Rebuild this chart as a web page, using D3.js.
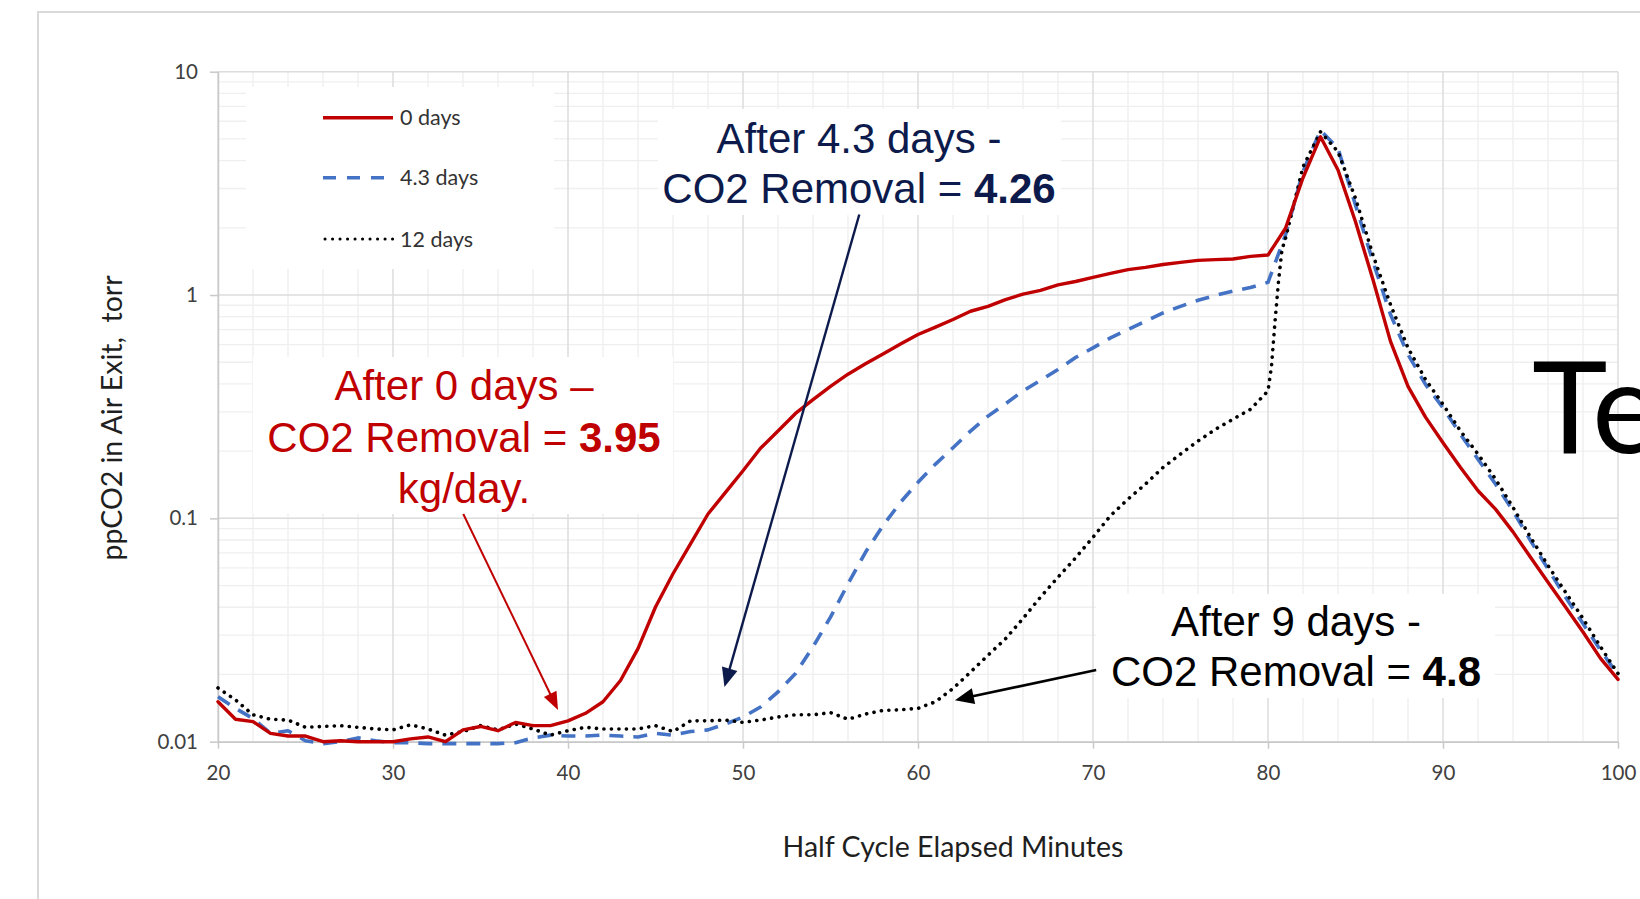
<!DOCTYPE html>
<html><head><meta charset="utf-8">
<script src="https://cdn.jsdelivr.net/npm/d3@7"></script>
<style>
html,body{margin:0;padding:0;background:#fff;overflow:hidden;}
svg{display:block;}
</style></head><body>
<svg id="chart" width="1640" height="899"></svg>
<script>
// ---------------- DATA ----------------
const minutes = [20,21,22,23,24,25,26,27,28,29,30,31,32,33,34,35,36,37,38,39,40,41,42,43,44,45,46,47,48,49,50,51,52,53,54,55,56,57,58,59,60,61,62,63,64,65,66,67,68,69,70,71,72,73,74,75,76,77,78,79,80,81,82,83,84,85,86,87,88,89,90,91,92,93,94,95,96,97,98,99,100];

const days0 = [0.0151,0.0126,0.0123,0.0109,0.0106,0.0106,0.0100,0.0101,0.0100,0.0100,
  0.0100,0.0103,0.0105,0.0100,0.0113,0.0117,0.0112,0.0122,0.0118,0.0118,
  0.0124,0.0134,0.0151,0.0188,0.0261,0.0401,0.0565,0.0769,0.1046,0.1307,
  0.1633,0.206,0.246,0.295,0.340,0.390,0.442,0.492,0.545,0.604,
  0.666,0.718,0.777,0.846,0.890,0.953,1.01,1.05,1.11,1.15,
  1.20,1.25,1.30,1.33,1.37,1.40,1.43,1.44,1.45,1.49,
  1.51,1.99,3.35,5.11,3.63,2.13,1.17,0.62,0.39,0.284,
  0.218,0.169,0.133,0.110,0.087,0.067,0.0518,0.0401,0.031,0.0236,0.019];

const days4_3 = [0.0159,0.0141,0.0127,0.0109,0.0112,0.0101,0.0098,0.0100,0.0104,0.0101,
  0.0099,0.0099,0.0098,0.0098,0.0098,0.0098,0.0098,0.0099,0.0104,0.0107,
  0.0106,0.0106,0.0107,0.0106,0.0105,0.0109,0.0107,0.0111,0.0113,0.0120,
  0.0129,0.0143,0.0167,0.0202,0.0266,0.0361,0.0509,0.0705,0.0928,0.118,
  0.145,0.175,0.207,0.246,0.287,0.326,0.372,0.415,0.464,0.525,
  0.58,0.643,0.70,0.763,0.831,0.89,0.947,0.997,1.04,1.08,
  1.14,1.86,3.57,5.47,4.53,2.53,1.41,0.818,0.542,0.398,
  0.313,0.238,0.184,0.1425,0.108,0.0795,0.0594,0.0444,0.0338,0.0257,0.0199];

const days12 = [0.0174,0.0154,0.0132,0.0126,0.0125,0.0116,0.0117,0.0118,0.0116,0.0114,
  0.0113,0.0119,0.0114,0.0107,0.0111,0.0118,0.0113,0.0120,0.0114,0.0107,
  0.0112,0.0116,0.0114,0.0114,0.0114,0.0118,0.0111,0.0124,0.0124,0.0125,
  0.0122,0.0125,0.0129,0.0132,0.0132,0.0135,0.0126,0.0133,0.0138,0.0139,
  0.0141,0.0151,0.0173,0.0205,0.0244,0.0289,0.0356,0.0444,0.0545,0.0665,
  0.0823,0.1028,0.122,0.1425,0.169,0.194,0.222,0.2506,0.278,0.308,
  0.372,1.79,3.75,5.38,4.38,2.71,1.51,0.906,0.58,0.419,
  0.324,0.246,0.194,0.15,0.112,0.0823,0.0615,0.0467,0.0356,0.0266,0.0202];

// extra 12-day samples read between minute 80 and 81
const days12DetailMinutes = [80.2,80.4,80.6,80.8];
const days12DetailValues  = [0.48,0.76,1.15,1.6];

const seriesNames = ["0 days","4.3 days","12 days"];
const xTickValues = [20,30,40,50,60,70,80,90,100];
const yTickValues = [0.01,0.1,1,10];
const yTickLabels = ["0.01","0.1","1","10"];
const xTitle = "Half Cycle Elapsed Minutes";
const yTitle = "ppCO2 in Air Exit,  torr";

// annotation arrow tips (minute, value)
const tipMinutes = [39.43, 48.94, 62.11];
const tipValues  = [0.01385, 0.01758, 0.01535];

// ---------------- LAYOUT / STYLE ----------------
const svg = d3.select("#chart");
const plot = {left:218, right:1618, top:71.7, bottom:741.7};
const x = d3.scaleLinear().domain([20,100]).range([plot.left, plot.right]);
const y = d3.scaleLog().domain([0.01,10]).range([plot.bottom, plot.top]);

const RED = "#C00000", BLUE = "#4472C4", BLACK = "#000000", NAVY = "#0d1b4c";

// outer frame
svg.append("path").attr("d","M38,1000 V12 H1700").attr("fill","none")
  .attr("stroke","#d9d9d9").attr("stroke-width",2);

// grid
const grid = svg.append("g");
const xMinor = d3.range(22,100,2).filter(v => v % 10 !== 0);
const yMinor = [];
[0.01,0.1,1].forEach(d => { for (let k=2;k<=9;k++) yMinor.push(k*d); });
grid.selectAll("line.xm").data(xMinor).join("line")
  .attr("x1",d=>x(d)).attr("x2",d=>x(d)).attr("y1",plot.top).attr("y2",plot.bottom)
  .attr("stroke","#efefef").attr("stroke-width",1.3);
grid.selectAll("line.ym").data(yMinor).join("line")
  .attr("x1",plot.left).attr("x2",plot.right).attr("y1",d=>y(d)).attr("y2",d=>y(d))
  .attr("stroke","#efefef").attr("stroke-width",1.3);
grid.selectAll("line.xM").data(xTickValues).join("line")
  .attr("x1",d=>x(d)).attr("x2",d=>x(d)).attr("y1",plot.top).attr("y2",plot.bottom)
  .attr("stroke","#dcdcdc").attr("stroke-width",1.5);
grid.selectAll("line.yM").data(yTickValues).join("line")
  .attr("x1",plot.left).attr("x2",plot.right).attr("y1",d=>y(d)).attr("y2",d=>y(d))
  .attr("stroke","#dcdcdc").attr("stroke-width",1.5);

// white backgrounds of legend and text boxes
const boxes = [
  {x:246, y:87,  w:308, h:182},
  {x:253, y:357, w:420, h:157},
  {x:658, y:109, w:403, h:106},
  {x:1096,y:594, w:399, h:104}
];
svg.append("g").selectAll("rect").data(boxes).join("rect")
  .attr("x",d=>d.x).attr("y",d=>d.y).attr("width",d=>d.w).attr("height",d=>d.h)
  .attr("fill","#fff");

// axes
const yAxis = d3.axisLeft(y).tickValues(yTickValues)
  .tickFormat((d,i)=>yTickLabels[i]).tickSize(8).tickSizeOuter(0).tickPadding(12);
const xAxis = d3.axisBottom(x).tickValues(xTickValues)
  .tickFormat(d3.format("d")).tickSize(7).tickSizeOuter(0).tickPadding(17);
const gy = svg.append("g").attr("transform",`translate(${plot.left},0)`).call(yAxis);
const gx = svg.append("g").attr("transform",`translate(0,${plot.bottom})`).call(xAxis);
[gx,gy].forEach(g=>{
  g.select(".domain").attr("stroke","#c9c9c9").attr("stroke-width",1.5);
  g.selectAll(".tick line").attr("stroke","#c9c9c9").attr("stroke-width",1.5);
  g.selectAll(".tick text").attr("fill","#404040")
    .style("font-family","Lato, 'Open Sans', sans-serif").style("font-size","20.5px");
});

// axis titles
svg.append("text").attr("x",953).attr("y",857).attr("text-anchor","middle")
  .style("font-family","Lato, sans-serif").style("font-size","28.5px").attr("fill","#1f1f1f")
  .text(xTitle);
svg.append("text").attr("transform","translate(122,418) rotate(-90)")
  .attr("text-anchor","middle").style("white-space","pre")
  .style("font-family","Lato, sans-serif").style("font-size","28.5px").attr("fill","#1f1f1f")
  .text(yTitle);

// series
const s0 = minutes.map((m,i)=>[m, days0[i]]);
const s43 = minutes.map((m,i)=>[m, days4_3[i]]);
const s12 = minutes.map((m,i)=>[m, days12[i]])
  .concat(days12DetailMinutes.map((m,i)=>[m, days12DetailValues[i]]))
  .sort((a,b)=>a[0]-b[0]);
const line = d3.line().x(d=>x(d[0])).y(d=>y(d[1]));

const seriesStyles = [
  {data:s43, color:BLUE, width:3.6, dash:"14,10", cap:"butt"},
  {data:s12, color:BLACK, width:3.6, dash:"0.1,7.4", cap:"round"},
  {data:s0, color:RED, width:3.4, dash:null, cap:"round"}
];
svg.append("g").selectAll("path").data(seriesStyles).join("path")
  .attr("d",d=>line(d.data)).attr("fill","none")
  .attr("stroke",d=>d.color).attr("stroke-width",d=>d.width)
  .attr("stroke-dasharray",d=>d.dash).attr("stroke-linecap",d=>d.cap)
  .attr("stroke-linejoin","round");

// legend
const legendItems = [
  {name:seriesNames[0], color:RED, width:3.4, dash:null, cap:"butt", yy:117.7},
  {name:seriesNames[1], color:BLUE, width:3.6, dash:"13,11", cap:"butt", yy:177.7},
  {name:seriesNames[2], color:BLACK, width:3, dash:"0.1,7.4", cap:"round", yy:239}
];
const lg = svg.append("g");
lg.selectAll("line").data(legendItems).join("line")
  .attr("x1",d=>d.cap==="round"?325:323).attr("x2",393).attr("y1",d=>d.yy).attr("y2",d=>d.yy)
  .attr("stroke",d=>d.color).attr("stroke-width",d=>d.width)
  .attr("stroke-dasharray",d=>d.dash).attr("stroke-linecap",d=>d.cap);
lg.selectAll("text").data(legendItems).join("text")
  .attr("x",400).attr("y",d=>d.yy+7.5)
  .style("font-family","Lato, sans-serif").style("font-size","21.5px").attr("fill","#333")
  .text(d=>d.name);

// annotations
const notes = [
  {color:RED, cx:464, base:[400,451.7,503],
   lines:[[["After 0 days \u2013",false]],[["CO2 Removal = ",false],["3.95",true]],[["kg/day.",false]]],
   from:[463.3,514], lw:2, head:[18,7]},
  {color:NAVY, cx:859, base:[152.5,202.6],
   lines:[[["After 4.3 days -",false]],[["CO2 Removal = ",false],["4.26",true]]],
   from:[859.3,214.5], lw:2.4, head:[19,8]},
  {color:BLACK, cx:1296, base:[636,686],
   lines:[[["After 9 days -",false]],[["CO2 Removal = ",false],["4.8",true]]],
   from:[1096.2,670], lw:2.6, head:[19,8]}
];
notes.forEach((n,k)=>{
  const g = svg.append("g");
  n.lines.forEach((ln,i)=>{
    const t = g.append("text").attr("x",n.cx).attr("y",n.base[i]).attr("text-anchor","middle")
      .style("font-family","'Liberation Sans', Arial, sans-serif").style("font-size","42px")
      .attr("fill",n.color).style("white-space","pre");
    ln.forEach(([s,b])=>t.append("tspan").style("font-weight",b?"bold":"normal").text(s));
  });
  const tx = x(tipMinutes[k]), ty = y(tipValues[k]);
  const [fx,fy] = n.from;
  const dx = tx-fx, dy = ty-fy, len = Math.hypot(dx,dy);
  const ux = dx/len, uy = dy/len;
  const [L,W] = n.head;
  const bx = tx-ux*L, by = ty-uy*L;
  g.append("line").attr("x1",fx).attr("y1",fy).attr("x2",bx+ux*2).attr("y2",by+uy*2)
    .attr("stroke",n.color).attr("stroke-width",n.lw);
  g.append("path").attr("d",`M${tx},${ty}L${bx-uy*W},${by+ux*W}L${bx+uy*W},${by-ux*W}Z`)
    .attr("fill",n.color);
});

// slide title fragment, cut off at the right edge as in the reference
svg.append("text").attr("x",1532).attr("y",453)
  .style("font-family","Lato, sans-serif").style("font-size","128px").attr("fill","#000")
  .text("Te");
</script>
</body></html>
